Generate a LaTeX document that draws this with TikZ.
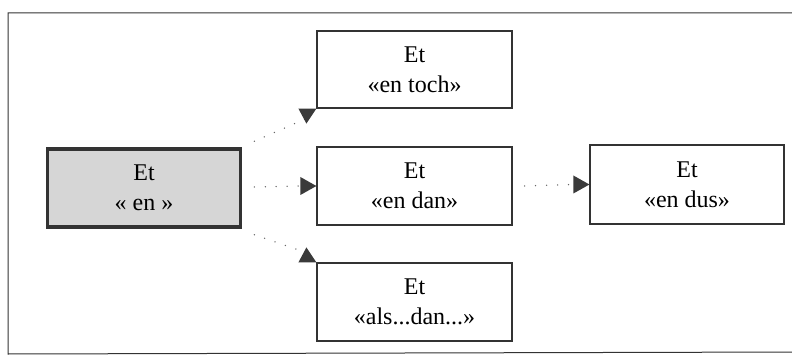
\documentclass[tikz,border=0pt]{standalone}
\usepackage{fontspec}
\setmainfont{Liberation Serif}
\usetikzlibrary{arrows.meta,calc}
\definecolor{boxgray}{HTML}{D6D6D6}
\definecolor{darkline}{HTML}{333333}
\definecolor{tipgray}{HTML}{3A3A3A}
\tikzset{
  stepbox/.style={draw=darkline, line width=1.2pt, fill=white, align=center,
    inner sep=0pt, minimum width=195pt, minimum height=78pt,
    font=\fontsize{24}{30}\selectfont},
  mainbox/.style={stepbox, fill=boxgray, line width=3.5pt, minimum width=193pt, minimum height=78pt},
  dotline/.style={draw=black!60, line width=1.5pt, line cap=round, dash pattern=on 0pt off 11pt},
  tip/.style={fill=tipgray}
}
\begin{document}
\begin{tikzpicture}[x=1pt,y=-1pt]
\useasboundingbox (0,0) rectangle (792,358);
% outer frame (open at the right)
\draw[darkline, line width=1pt] (800,13) -- (8,13) -- (8,354) -- (800,352);
% nodes
\node[mainbox] (main) at (144,188) {Et\\« en »};
\node[stepbox, minimum height=77pt] (toch) at (414.5,69.5) {Et\\«en toch»};
\node[stepbox] (dan) at (414.5,186) {Et\\«en dan»};
\node[stepbox] (als) at (414.5,302) {Et\\«als...dan...»};
\node[stepbox, minimum width=194pt, minimum height=79pt] (dus) at (687,184.5) {Et\\«en dus»};
% connector end points
\coordinate (t1) at ($(toch.south west)+(-8,9)$);
\coordinate (b1) at ($(als.north west)+(-8,-9)$);
% top connector
\draw[dotline] ($(main.north east)+(12,-6)$) -- (t1);
\fill[tip] ($(toch.south west)+(-18,0)$) -- (toch.south west) -- ($(toch.south west)+(-10,15)$) -- cycle;
% middle connector
\draw[dotline] ($(main.east)+(12,-1)$) -- ($(dan.west)+(-18,0)$);
\fill[tip] ($(dan.west)+(-16,-9)$) -- (dan.west) -- ($(dan.west)+(-16,9)$) -- cycle;
% bottom connector
\draw[dotline] ($(main.south east)+(12,6)$) -- (b1);
\fill[tip] ($(als.north west)+(-18,0)$) -- (als.north west) -- ($(als.north west)+(-10,-15)$) -- cycle;
% dan -> dus
\draw[dotline] ($(dan.east)+(12,0)$) -- ($(dus.west)+(-18,0)$);
\fill[tip] ($(dus.west)+(-16,-9)$) -- (dus.west) -- ($(dus.west)+(-16,9)$) -- cycle;
\end{tikzpicture}
\end{document}
